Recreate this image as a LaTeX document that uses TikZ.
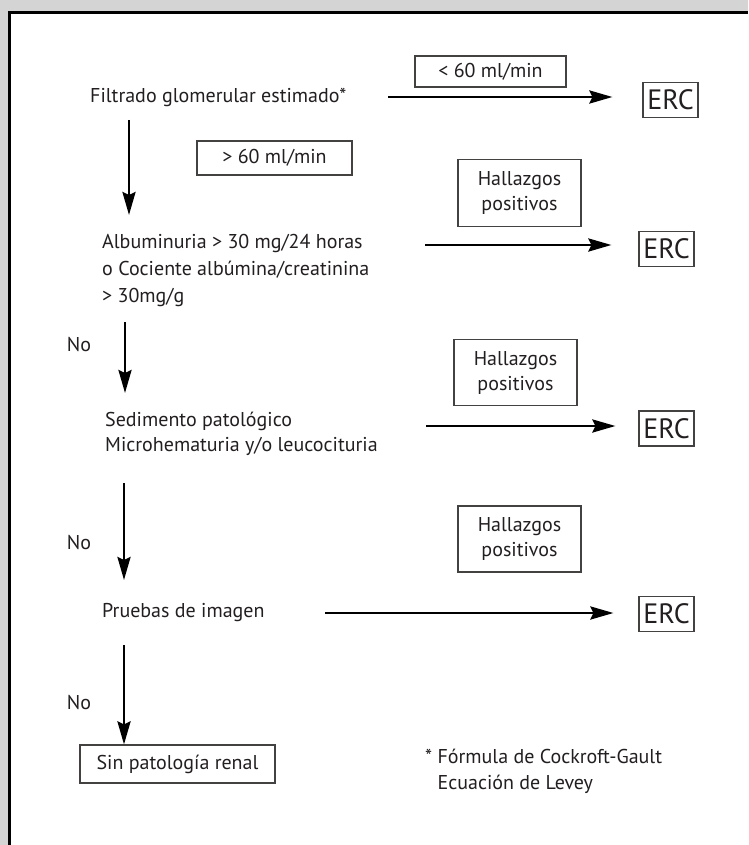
\documentclass[tikz,border=0pt]{standalone}
\usepackage{fontspec}
\setmainfont{PT Sans}
\usetikzlibrary{arrows.meta,calc}
\definecolor{panelgray}{HTML}{D4D4D4}
\definecolor{ink}{HTML}{231F20}

\begin{document}
\begin{tikzpicture}[x=1pt,y=-1pt,
  txt/.style={inner sep=0pt, text=ink, font=\fontsize{20}{27}\selectfont, align=left, anchor=west},
  tagbox/.style={draw=ink!85, line width=1.1pt, inner sep=0pt, text=ink,
                 font=\fontsize{20}{25}\selectfont, align=center},
  ercbox/.style={draw=ink!85, line width=1.1pt, inner sep=0pt, text=ink,
                 font=\fontsize{28}{30}\selectfont, minimum width=55pt, minimum height=35pt},
  arr/.style={line width=2.8pt, draw=black, -{Stealth[length=23pt,width=13pt,inset=3pt]}}]

% page and panel
\useasboundingbox (0,0) rectangle (748,845);
\fill[panelgray] (0,0) rectangle (748,845);
\fill[white] (9.5,12.5) rectangle (748,845);
\draw[line width=3pt] (9.5,845) -- (9.5,12.5) -- (748,12.5);

% main column
\node[txt] (filt) at (90,97) {Filtrado glomerular estimado*};
\node[txt] (albu) at (102,270) {Albuminuria > 30 mg/24 horas\\o Cociente albúmina/creatinina\\> 30mg/g};
\node[txt, font=\fontsize{20}{25}\selectfont] (sedi) at (105,434) {Sedimento patológico\\Microhematuria y/o leucocituria};
\node[txt] (prue) at (102,613) {Pruebas de imagen};
\node[tagbox, minimum width=195pt, minimum height=38pt] (sinp) at (177.5,764) {Sin patología renal};

% conditions
\node[tagbox, minimum width=151pt, minimum height=31pt] (lt60) at (490.5,71.5) {< 60 ml/min};
\node[tagbox, minimum width=155pt, minimum height=34pt] (gt60) at (274.5,158) {> 60 ml/min};
\node[tagbox, minimum width=123pt, minimum height=67pt] (hal1) at (519.5,193) {Hallazgos\\positivos};
\node[tagbox, minimum width=123pt, minimum height=66pt] (hal2) at (515.5,372.5) {Hallazgos\\positivos};
\node[tagbox, minimum width=123pt, minimum height=66pt] (hal3) at (519.5,539) {Hallazgos\\positivos};

% outcomes
\node[ercbox] (erc1) at (670.5,100) {ERC};
\node[ercbox] (erc2) at (666.5,249) {ERC};
\node[ercbox] (erc3) at (666.5,428.5) {ERC};
\node[ercbox] (erc4) at (666.5,614) {ERC};

% "No" labels
\node[txt, anchor=center] (no1) at (79,345) {No};
\node[txt, anchor=center] (no2) at (79,543) {No};
\node[txt, anchor=center] (no3) at (79,703) {No};

% footnote
\node[txt, anchor=north west, font=\fontsize{20}{26}\selectfont] (foot) at (425,749)
  {* Fórmula de Cockroft-Gault\\\phantom{* }Ecuación de Levey};

% horizontal connectors
\draw[arr] ($(filt.west)+(298,0)$) -- ($(erc1.west)+(-30,-3)$);
\draw[arr] ($(albu.west)+(323,-25)$) -- ($(erc2.west)+(-27,-4)$);
\draw[arr] ($(sedi.west)+(321,-8)$) -- ($(erc3.west)+(-23,-2.5)$);
\draw[arr] ($(prue.west)+(223,0)$) -- ($(erc4.west)+(-25,-1)$);

% vertical connectors
\draw[arr] ($(filt.west)+(39,23)$) -- ($(albu.west)+(27,-55)$);
\draw[arr] ($(albu.west)+(23,52)$) -- ($(sedi.west)+(20,-41)$);
\draw[arr] ($(sedi.west)+(19,49)$) -- ($(prue.west)+(22,-33)$);
\draw[arr] ($(prue.west)+(22,32)$) -- (sinp.north -| {$(prue.west)+(22,0)$});
\end{tikzpicture}
\end{document}
